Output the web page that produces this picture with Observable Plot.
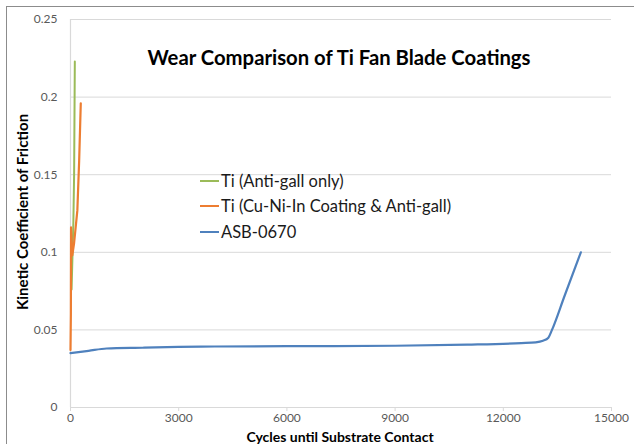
<!DOCTYPE html>
<html>
<head>
<meta charset="utf-8">
<script src="https://cdn.jsdelivr.net/npm/d3@7"></script>
<script src="https://cdn.jsdelivr.net/npm/@observablehq/plot@0.6"></script>
<style>
  html, body { margin: 0; padding: 0; background: #fff; }
  #wrap { position: relative; width: 634px; height: 444px; overflow: hidden; font-family: Lato, "Open Sans", sans-serif; }
  #frame { position: absolute; left: 6px; top: 6px; width: 700px; height: 600px; border-top: 1.5px solid #8c8c8c; border-left: 1.5px solid #8c8c8c; box-sizing: border-box; pointer-events: none; }
  #title { position: absolute; left: 339px; top: 46px; transform: translateX(-50%); font-size: 20.3px; font-weight: bold; color: #000; white-space: nowrap; line-height: 22px; }
  #xtitle { position: absolute; left: 340px; top: 430px; transform: translateX(-50%); font-size: 14px; font-weight: bold; color: #000; white-space: nowrap; line-height: 13px; }
  #ytitle { position: absolute; left: 22px; top: 212px; transform: translate(-50%, -50%) rotate(-90deg); font-size: 15px; font-weight: bold; color: #000; white-space: nowrap; line-height: 16px; }
  #legend { position: absolute; left: 200px; top: 168px; font-size: 16.5px; color: #1a1a1a; }
  .li { display: flex; align-items: center; height: 25.5px; white-space: nowrap; }
  .sw { width: 19px; height: 2px; margin-right: 2px; }
  svg { position: absolute; left: 0; top: 0; }
</style>
</head>
<body>
<div id="wrap">
  <div id="chart"></div>
  <div id="frame"></div>
  <div id="title">Wear Comparison of Ti Fan Blade Coatings</div>
  <div id="ytitle">Kinetic Coefficient of Friction</div>
  <div id="xtitle">Cycles until Substrate Contact</div>
  <div id="legend"></div>
</div>
<script>
// ---- data ----
const seriesNames = ["Ti (Anti-gall only)", "Ti (Cu-Ni-In Coating & Anti-gall)", "ASB-0670"];
const seriesColors = ["#9bbb59", "#ed7d31", "#4f81bd"];

const antiGallCycles = [30, 55, 80, 100, 120];
const antiGallFriction = [0.076, 0.098, 0.12, 0.15, 0.223];

const cuNiInCycles = [0, 10, 15, 50, 100, 190, 240, 285];
const cuNiInFriction = [0.037, 0.06, 0.116, 0.098, 0.106, 0.127, 0.159, 0.196];

const asbCycles = [0, 500, 1000, 2000, 3000, 4000, 6000, 9000, 11000, 12500, 12900, 13100, 13250, 13350, 13700, 14150];
const asbFriction = [0.035, 0.0365, 0.038, 0.0385, 0.039, 0.0393, 0.0395, 0.0398, 0.0405, 0.0415, 0.042, 0.043, 0.045, 0.05, 0.072, 0.1];

const xTicks = [0, 3000, 6000, 9000, 12000, 15000];
const yTicks = [0, 0.05, 0.1, 0.15, 0.2, 0.25];
const yTickLabels = ["0", "0.05", "0.1", "0.15", "0.2", "0.25"];

// ---- build ----
const rows = (xs, ys, s) => xs.map((x, i) => ({x, y: ys[i], s}));
const antiGall = rows(antiGallCycles, antiGallFriction, seriesNames[0]);
const cuNiIn = rows(cuNiInCycles, cuNiInFriction, seriesNames[1]);
const asb = rows(asbCycles, asbFriction, seriesNames[2]);

const chart = Plot.plot({
  width: 634,
  height: 444,
  marginLeft: 70,
  marginRight: 23,
  marginTop: 19,
  marginBottom: 37,
  style: {fontFamily: "Lato, 'Open Sans', sans-serif", fontSize: "12px", background: "transparent"},
  x: {domain: [0, 15000]},
  y: {domain: [0, 0.25]},
  marks: [
    Plot.gridY(yTicks, {stroke: "#d9d9d9", strokeOpacity: 1, strokeWidth: 1}),
    Plot.ruleX([0], {stroke: "#d9d9d9", strokeWidth: 1.2}),
    Plot.ruleY([0], {stroke: "#d9d9d9", strokeWidth: 1.2}),
    Plot.axisY({ticks: yTicks, tickSize: 0, tickPadding: 13, tickFormat: (d) => yTickLabels[yTicks.indexOf(d)], fill: "#595959", label: null}),
    Plot.axisX({ticks: xTicks, tickSize: 4, tickPadding: 2, stroke: "#d9d9d9", fill: "#595959", tickFormat: (d) => String(d), label: null}),
    Plot.line(asb, {x: "x", y: "y", stroke: seriesColors[2], strokeWidth: 2.2, curve: "monotone-x"}),
    Plot.line(antiGall, {x: "x", y: "y", stroke: seriesColors[0], strokeWidth: 2}),
    Plot.line(cuNiIn, {x: "x", y: "y", stroke: seriesColors[1], strokeWidth: 2.2})
  ]
});
document.getElementById("chart").appendChild(chart);

const leg = document.getElementById("legend");
seriesNames.forEach((n, i) => {
  const d = document.createElement("div");
  d.className = "li";
  d.innerHTML = `<span class="sw" style="background:${seriesColors[i]}"></span><span></span>`;
  d.lastChild.textContent = n;
  leg.appendChild(d);
});
</script>
</body>
</html>
